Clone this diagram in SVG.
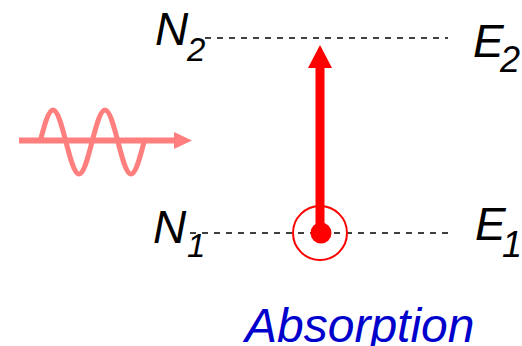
<svg xmlns="http://www.w3.org/2000/svg" width="522" height="346" viewBox="0 0 522 346">
<style>
.lbl{font-family:"Liberation Sans",Arial,sans-serif;font-style:italic;fill:#000}
.lvl{stroke:#000;stroke-width:1.5;stroke-dasharray:6 6;fill:none}
</style>
<rect width="522" height="346" fill="#fff"/>
<g id="connectors">
<line class="lvl" x1="205" y1="38" x2="448" y2="38"/>
<line class="lvl" x1="190" y1="233" x2="448" y2="233"/>
<line x1="320" y1="225" x2="320" y2="66" stroke="#f00" stroke-width="9"/>
<polygon points="308,68 332,68 320,45" fill="#f00"/>
</g>
<g id="photon">
<line x1="19" y1="140.5" x2="176" y2="140.5" stroke="#ff7f7f" stroke-width="6"/>
<polygon points="174,132 192,140.5 174,149" fill="#ff7f7f"/>
<path d="M40,142 C44.24,125.6 48.3,110 53,110 C57.7,110 61.76,125.6 66,142 C70.24,158.4 74.3,174 79,174 C83.7,174 87.76,158.4 92,142 C96.24,125.6 100.3,110 105,110 C109.7,110 113.76,125.6 118,142 C122.24,158.4 126.3,174 131,174 C135.7,174 139.76,158.4 144,142" fill="none" stroke="#ff7f7f" stroke-width="5"/>
</g>
<g id="atom">
<circle cx="320" cy="233" r="27" fill="none" stroke="#f00" stroke-width="2"/>
<circle cx="321" cy="233" r="10.5" fill="#f00"/>
</g>
<g id="N2"><text class="lbl" x="155" y="45" font-size="46">N</text><text class="lbl" x="187" y="61" font-size="33">2</text></g>
<g id="E2"><text class="lbl" x="473" y="57" font-size="46">E</text><text class="lbl" x="500" y="72" font-size="36">2</text></g>
<g id="N1"><text class="lbl" x="153" y="243" font-size="46">N</text><text class="lbl" x="187" y="257" font-size="33">1</text></g>
<g id="E1"><text class="lbl" x="475" y="240" font-size="46">E</text><text class="lbl" x="502" y="257" font-size="36">1</text></g>
<g id="label"><text x="245" y="342" font-family="Liberation Sans,Arial,sans-serif" font-style="italic" font-size="48" fill="#0000cc">Absorption</text></g>
</svg>
